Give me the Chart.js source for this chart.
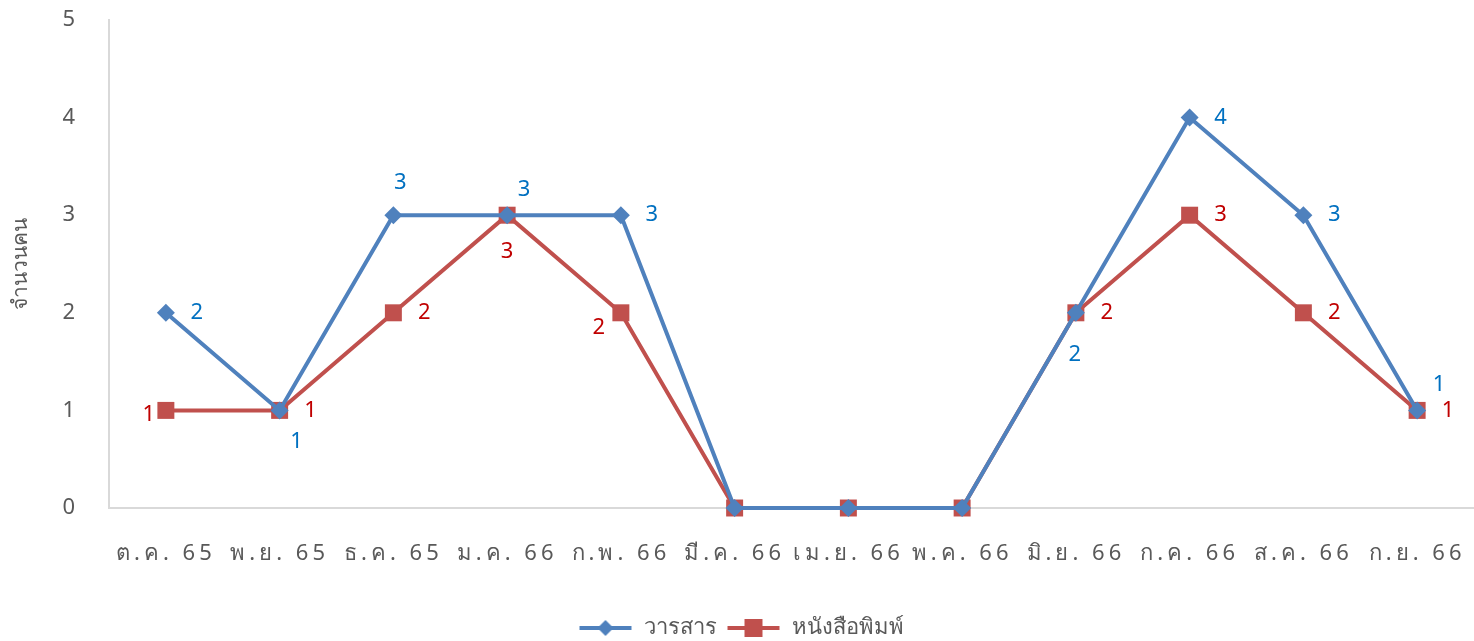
<!DOCTYPE html>
<html><head><meta charset="utf-8">
<script src="https://cdn.jsdelivr.net/npm/chart.js@4.4.1/dist/chart.umd.min.js"></script>
<style>html,body{margin:0;padding:0;background:#fff;overflow:hidden}#wrap{width:1474px;height:641px}</style>
</head><body><div id="wrap"><canvas id="c"></canvas></div>
<script>
const categories = ['ต.ค. 65','พ.ย. 65','ธ.ค. 65','ม.ค. 66','ก.พ. 66','มี.ค. 66','เม.ย. 66','พ.ค. 66','มิ.ย. 66','ก.ค. 66','ส.ค. 66','ก.ย. 66'];
const journals = [2,1,3,3,3,0,0,0,2,4,3,1];
const newspapers = [1,1,2,3,2,0,0,0,2,3,2,1];
const yTicks = [0,1,2,3,4,5];
const seriesNames = ['วารสาร','หนังสือพิมพ์'];

// label offsets (style only)
const blueOff = [[31,0],[17,31],[7,-32],[17,-25],[31,0],null,null,null,[-1,42],[31,0],[31,0],[22,-26]];
const redOff  = [[-17,4],[31,0],[31,0],[0,37],[-22,15],null,null,null,[31,0],[31,0],[31,0],[31,0]];

const FONT = "'Noto Sans', 'DejaVu Sans', sans-serif";
const BLUE='#4F81BD', RED='#C0504D';

function legendIcon(color, style){
  const c=document.createElement('canvas'); c.width=54; c.height=20;
  const x=c.getContext('2d');
  x.strokeStyle=color; x.lineWidth=4; x.beginPath(); x.moveTo(1,10); x.lineTo(53,10); x.stroke();
  x.fillStyle=color;
  if(style==='d'){x.beginPath();x.moveTo(27,2);x.lineTo(35,10);x.lineTo(27,18);x.lineTo(19,10);x.closePath();x.fill();}
  else {x.fillRect(18,1,18,18);}
  return c;
}

const labelPlugin = {
  id:'vlabels',
  afterDatasetsDraw(chart){
    const ctx=chart.ctx;
    ctx.save();
    ctx.font = "22px "+FONT;
    ctx.textAlign='center'; ctx.textBaseline='middle';
    chart.data.datasets.forEach((ds,i)=>{
      const meta=chart.getDatasetMeta(i);
      ds.data.forEach((v,j)=>{
        const off=ds.labelOffsets[j]; if(!off||v===0) return;
        const p=meta.data[j];
        ctx.fillStyle=ds.labelColor;
        ctx.fillText(String(v), p.x+off[0], p.y+off[1]);
      });
    });
    ctx.restore();
    // x tick labels (z:1) are drawn after this point: widen letter spacing
    ctx.letterSpacing='4px';
  },
  afterDraw(chart){ chart.ctx.letterSpacing='0px'; }
};

new Chart(document.getElementById('c'),{
  type:'line',
  data:{labels:categories,datasets:[
    {label:seriesNames[0],data:journals,borderColor:BLUE,backgroundColor:BLUE,borderWidth:4,pointBorderWidth:0,pointStyle:'rectRot',pointRadius:9,pointHoverRadius:9,tension:0,clip:false,labelOffsets:blueOff,labelColor:'#0070C0'},
    {label:seriesNames[1],data:newspapers,borderColor:RED,backgroundColor:RED,borderWidth:4,pointBorderWidth:0,pointStyle:'rect',pointRadius:12,pointHoverRadius:12,tension:0,clip:false,labelOffsets:redOff,labelColor:'#C00000'}
  ]},
  options:{
    responsive:true,maintainAspectRatio:false,animation:false,
    layout:{autoPadding:false,padding:{top:20,right:0,left:8,bottom:-8}},
    plugins:{
      tooltip:{enabled:false},
      legend:{position:'bottom',labels:{
        font:{size:22,family:FONT},color:'#595959',usePointStyle:true,pointStyleWidth:54,boxHeight:20,padding:10,
        generateLabels(chart){
          return chart.data.datasets.map((d,i)=>({text:d.label,fillStyle:d.borderColor,strokeStyle:d.borderColor,fontColor:'#595959',pointStyle:legendIcon(d.borderColor,i===0?'d':'s'),datasetIndex:i,lineWidth:0}));
        }}}
    },
    scales:{
      x:{offset:true,grid:{display:false,drawTicks:false},border:{color:'#D9D9D9',width:2},
        ticks:{z:1,color:'#595959',font:{size:22,family:FONT},padding:33,maxRotation:0,autoSkip:false},
        afterFit(s){s.height=99;s.paddingLeft=0;s.paddingRight=0;}},
      y:{min:0,max:5,grid:{display:false,drawTicks:false},border:{color:'#D9D9D9',width:2},
        ticks:{stepSize:1,color:'#595959',font:{size:22,family:FONT},padding:34},
        title:{display:true,text:'จำนวนคน',color:'#595959',font:{size:21,family:FONT},padding:{top:0,bottom:0}},
        afterFit(s){s.width=101;s.paddingTop=0;s.paddingBottom=0;}}
    }
  },
  plugins:[labelPlugin]
});
</script></body></html>
